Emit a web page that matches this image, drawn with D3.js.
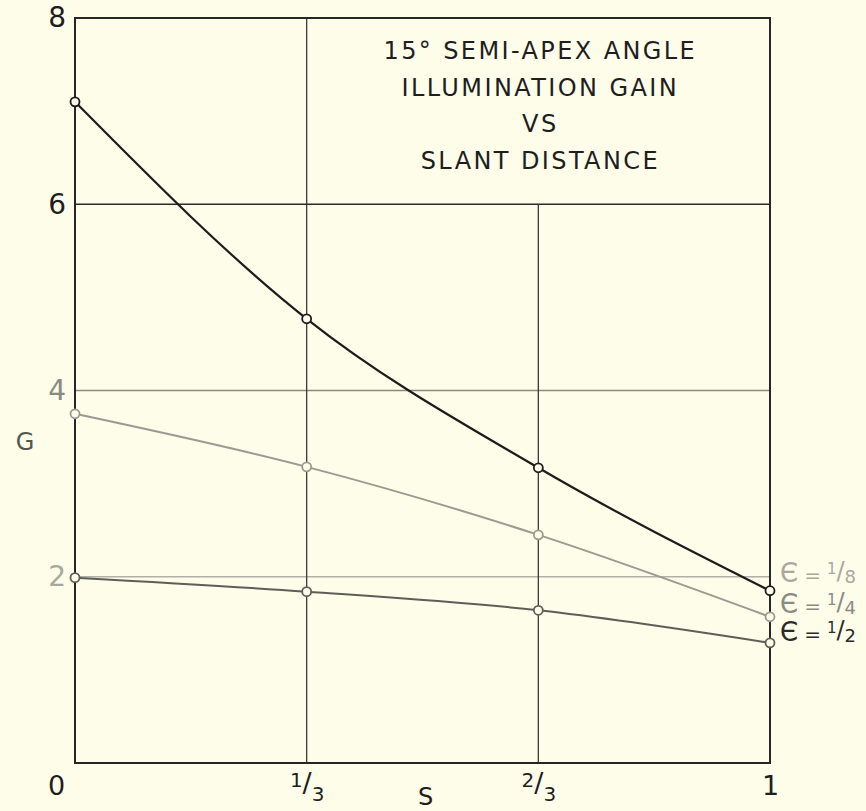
<!DOCTYPE html>
<html>
  <head>
    <meta charset="utf-8">
    <title>Illumination Gain vs Slant Distance</title>
    <style>
      body { margin: 0; background: #fefde9; }
      text { font-family: "DejaVu Sans", sans-serif; }
    </style>
  </head>
  <body>
    <div id="container"></div>
    <script src="https://d3js.org/d3.v7.min.js"></script>
    <script>

      // DATA
      var sValues = [0, 1 / 3, 2 / 3, 1];
      var gainEps8 = [7.10, 4.77, 3.17, 1.85];   // e = 1/8
      var gainEps4 = [3.75, 3.18, 2.45, 1.57];   // e = 1/4
      var gainEps2 = [1.99, 1.84, 1.64, 1.29];   // e = 1/2
      var epsLabels = ["1/8", "1/4", "1/2"];
      var yTicks = [2, 4, 6, 8];
      var xTickLabels = [["0", null], ["1", "3"], ["2", "3"], ["1", null]];
      var titleLines = ["15° SEMI-APEX ANGLE", "ILLUMINATION GAIN", "VS", "SLANT DISTANCE"];

      // DIMENSIONS
      var margin = { top: 18, right: 96, bottom: 48, left: 75 },
        width = 866 - margin.left - margin.right,
        height = 811 - margin.top - margin.bottom;

      var svg = d3.select("#container")
        .append("svg")
        .attr("width", 866)
        .attr("height", 811)
        .append("g")
        .attr("transform", "translate(" + margin.left + "," + margin.top + ")");

      var x = d3.scaleLinear().domain([0, 1]).range([0, width]);
      var y = d3.scaleLinear().domain([0, 8]).range([height, 0]);

      // GRID LINES
      var grid = svg.append("g");
      // horizontal: 6 dark, 4 and 2 faded
      grid.append("line")
        .attr("x1", 0).attr("x2", width)
        .attr("y1", y(6)).attr("y2", y(6))
        .attr("stroke", "#2a2a2a").attr("stroke-width", 1.6);
      grid.append("line")
        .attr("x1", 0).attr("x2", width)
        .attr("y1", y(4)).attr("y2", y(4))
        .attr("stroke", "#8a8a80").attr("stroke-width", 1.3);
      grid.append("line")
        .attr("x1", 0).attr("x2", width)
        .attr("y1", y(2)).attr("y2", y(2))
        .attr("stroke", "#b0b0a6").attr("stroke-width", 1.3);
      // vertical 1/3 full height, 2/3 below the title box
      grid.append("line")
        .attr("x1", x(1 / 3)).attr("x2", x(1 / 3))
        .attr("y1", 0).attr("y2", height)
        .attr("stroke", "#3a3a3a").attr("stroke-width", 1.3);
      grid.append("line")
        .attr("x1", x(2 / 3)).attr("x2", x(2 / 3))
        .attr("y1", y(6)).attr("y2", height)
        .attr("stroke", "#3a3a3a").attr("stroke-width", 1.3);

      // FRAME
      svg.append("rect")
        .attr("x", 0).attr("y", 0)
        .attr("width", width).attr("height", height)
        .attr("fill", "none")
        .attr("stroke", "#262626").attr("stroke-width", 2);

      // AXIS LABELS (drawn with d3 axes, domain hidden)
      var yAxis = svg.append("g")
        .call(d3.axisLeft(y).tickValues(yTicks).tickSize(0).tickPadding(9));
      yAxis.select(".domain").remove();
      yAxis.selectAll("text")
        .attr("font-size", 28)
        .attr("fill", d => d >= 6 ? "#1e1e1e" : (d == 4 ? "#8a8a80" : "#a8a89e"));

      var xAxis = svg.append("g")
        .attr("transform", "translate(0," + height + ")")
        .call(d3.axisBottom(x).tickValues(sValues).tickSize(0).tickFormat(""));
      xAxis.select(".domain").remove();
      xAxis.selectAll(".tick").each(function (d, i) {
        var lab = xTickLabels[i];
        var t = d3.select(this).append("text")
          .attr("fill", "#1e1e1e")
          .attr("text-anchor", "middle");
        if (lab[1] == null) {
          t.attr("y", 32).attr("font-size", 27)
            .attr("dx", i == 0 ? -19 : 0)
            .text(lab[0]);
        } else {
          t.attr("y", 32).attr("font-size", 20);
          t.append("tspan").attr("dy", -8).text(lab[0]);
          t.append("tspan").attr("font-size", 27).attr("dy", 5).text("/");
          t.append("tspan").attr("dy", 9).text(lab[1]);
        }
      });

      svg.append("text")
        .attr("x", x(0.5) + 3).attr("y", height + 42)
        .attr("text-anchor", "middle")
        .attr("font-size", 24).attr("fill", "#1e1e1e")
        .text("S");
      svg.append("text")
        .attr("x", -50).attr("y", y(3.45) + 8)
        .attr("text-anchor", "middle")
        .attr("font-size", 24).attr("fill", "#555550")
        .text("G");

      // TITLE
      svg.append("g").selectAll("text")
        .data(titleLines)
        .enter()
        .append("text")
        .attr("x", (x(1 / 3) + width) / 2 + 2)
        .attr("y", (d, i) => 41 + i * 36.5)
        .attr("text-anchor", "middle")
        .attr("font-size", 24)
        .attr("letter-spacing", 2.4)
        .attr("fill", "#1e1e1e")
        .text(d => d);

      // CURVES
      var series = [
        { key: epsLabels[0], values: gainEps8, color: "#1c1c1c", width: 2.2, label: "#a8a8a0", dy: -19 },
        { key: epsLabels[1], values: gainEps4, color: "#9a9a92", width: 2, label: "#8a8a84", dy: -14 },
        { key: epsLabels[2], values: gainEps2, color: "#5e5e58", width: 2, label: "#2a2a2a", dy: -12 }
      ];

      var line = d3.line()
        .curve(d3.curveMonotoneX)
        .x((d, i) => x(sValues[i]))
        .y(d => y(d));

      svg.selectAll("curves")
        .data(series)
        .enter()
        .append("path")
        .attr("fill", "none")
        .attr("stroke", d => d.color)
        .attr("stroke-width", d => d.width)
        .attr("d", d => line(d.values));

      series.forEach(function (s) {
        svg.selectAll(null)
          .data(s.values)
          .enter()
          .append("circle")
          .attr("cx", (d, i) => x(sValues[i]))
          .attr("cy", d => y(d))
          .attr("r", 4.5)
          .attr("fill", "#fefde9")
          .attr("stroke", s.color)
          .attr("stroke-width", 1.8);
      });

      // EPSILON LABELS AT RIGHT
      series.forEach(function (s, i) {
        var parts = s.key.split("/");
        var t = svg.append("text")
          .attr("x", width + 10).attr("y", y(s.values[3]) + s.dy + 10)
          .attr("font-size", 26)
          .attr("fill", s.label);
        t.append("tspan").text("\u0404");
        t.append("tspan").attr("dx", 6).attr("font-size", 20).text("=");
        t.append("tspan").attr("dx", 6).attr("font-size", 15).attr("dy", -8).text(parts[0]);
        t.append("tspan").attr("font-size", 24).attr("dy", 5).text("/");
        t.append("tspan").attr("font-size", 18).attr("dy", 4).text(parts[1]);
      });

    </script>
  </body>
</html>
